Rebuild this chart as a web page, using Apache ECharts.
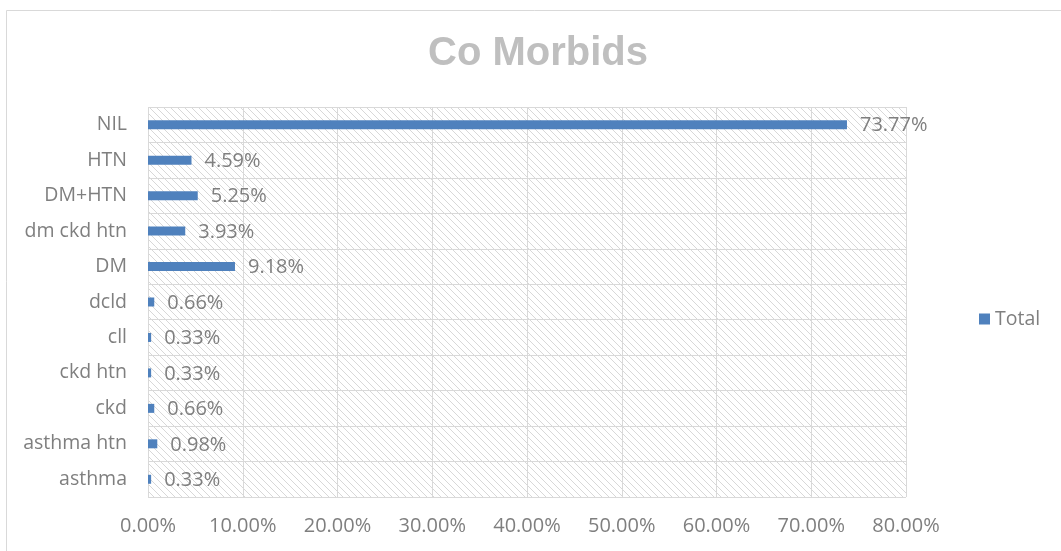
<!DOCTYPE html>
<html>
<head>
<meta charset="utf-8">
<script src="https://cdn.jsdelivr.net/npm/echarts@6/dist/echarts.min.js"></script>
<style>
  html, body { margin: 0; padding: 0; background: #fff; }
  #chart { width: 1061px; height: 551px; }
</style>
</head>
<body>
<div id="chart"></div>
<script>
// Comorbidity categories, listed bottom to top
const categories = ['asthma', 'asthma htn', 'ckd', 'ckd htn', 'cll', 'dcld', 'DM', 'dm ckd htn', 'DM+HTN', 'HTN', 'NIL'];
// Share of patients (%)
const totals = [0.33, 0.98, 0.66, 0.33, 0.33, 0.66, 9.18, 3.93, 5.25, 4.59, 73.77];
const xTicks = { min: 0, max: 80, interval: 10 };

// Diagonal hatch used as the plot-area fill
function hatchTile() {
  const size = 7;
  const c = document.createElement('canvas');
  c.width = size; c.height = size;
  const g = c.getContext('2d');
  g.fillStyle = '#ffffff';
  g.fillRect(0, 0, size, size);
  g.strokeStyle = '#d8d8d8';
  g.lineWidth = 1;
  g.beginPath();
  g.moveTo(-1, -1); g.lineTo(size + 1, size + 1);
  g.moveTo(-1, size - 1); g.lineTo(1, size + 1);
  g.moveTo(size - 1, -1); g.lineTo(size + 1, 1);
  g.stroke();
  return c;
}

const FONT = 'Open Sans';
const gray = '#7f7f7f';
const chart = echarts.init(document.getElementById('chart'), null, { renderer: 'canvas' });
chart.setOption({
  backgroundColor: '#ffffff',
  animation: false,
  title: {
    text: 'Co Morbids',
    left: 423,
    top: 29,
    textStyle: { fontFamily: 'Liberation Sans', fontSize: 40, fontWeight: 'bold', color: '#bfbfbf' }
  },
  graphic: [{
    type: 'rect',
    shape: { x: 6.5, y: 10.5, width: 1070, height: 560 },
    style: { fill: 'none', stroke: '#d9d9d9', lineWidth: 1 },
    silent: true
  }],
  legend: {
    data: ['Total'],
    left: 974,
    top: 304,
    orient: 'vertical',
    itemWidth: 11,
    itemHeight: 11,
    itemGap: 6,
    icon: 'rect',
    textStyle: { fontFamily: FONT, fontSize: 19.5, color: gray }
  },
  grid: {
    left: 148, right: 155, top: 107, bottom: 54,
    show: true,
    borderWidth: 0,
    backgroundColor: { image: hatchTile(), repeat: 'repeat' }
  },
  xAxis: {
    type: 'value',
    min: xTicks.min, max: xTicks.max, interval: xTicks.interval,
    axisLine: { show: false },
    axisTick: { show: false },
    splitLine: { show: true, lineStyle: { color: '#d9d9d9', width: 1 } },
    axisLabel: {
      margin: 19,
      fontFamily: FONT, fontSize: 20, color: gray,
      formatter: v => v.toFixed(2) + '%'
    }
  },
  yAxis: {
    type: 'category',
    data: categories,
    axisLine: { show: false },
    axisTick: { show: false },
    splitLine: { show: true, lineStyle: { color: '#d9d9d9', width: 1 } },
    axisLabel: { margin: 21, fontFamily: FONT, fontSize: 19.5, color: gray }
  },
  series: [{
    name: 'Total',
    type: 'bar',
    data: totals,
    barWidth: 9,
    itemStyle: { color: '#4f81bd' },
    label: {
      show: true,
      position: 'right',
      distance: 13,
      offset: [0, 1],
      fontFamily: FONT, fontSize: 20, color: gray,
      formatter: p => p.value.toFixed(2) + '%'
    }
  }]
});
</script>
</body>
</html>
